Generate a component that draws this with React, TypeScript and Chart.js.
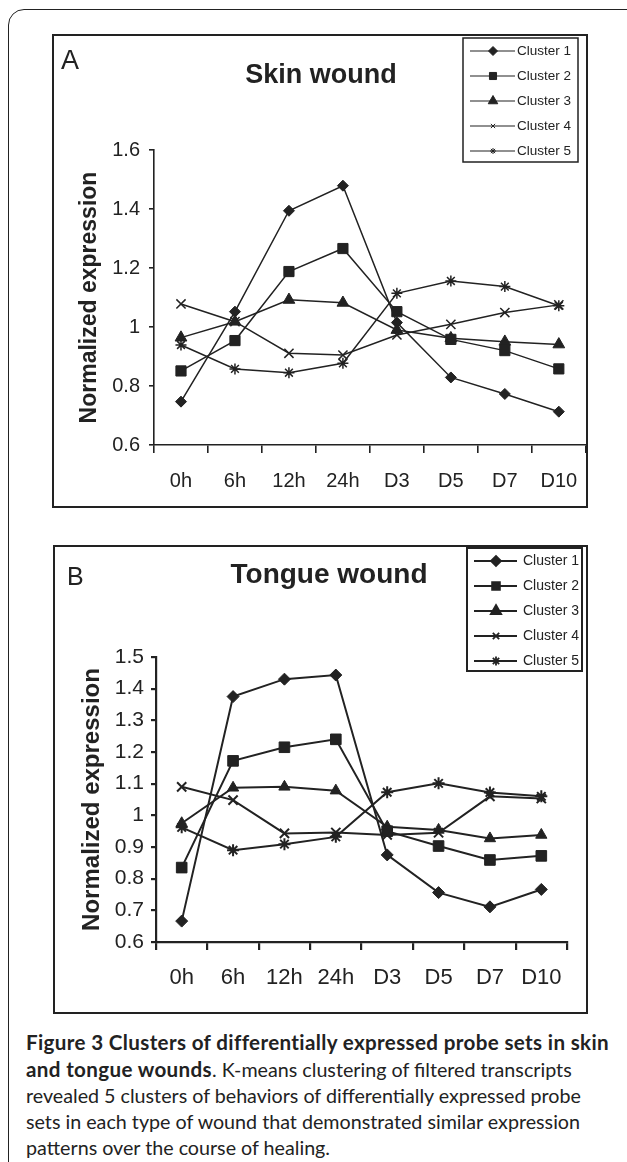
import React, { useEffect, useRef } from 'react';
import { Chart, registerables } from 'chart.js';
import { drawPoint } from 'chart.js/helpers';

Chart.register(...registerables);

// ---------- data ----------
const categories = ['0h', '6h', '12h', '24h', 'D3', 'D5', 'D7', 'D10'];
const clusterLabels = ['Cluster 1', 'Cluster 2', 'Cluster 3', 'Cluster 4', 'Cluster 5'];

const skinCluster1 = [0.747, 1.052, 1.394, 1.479, 1.015, 0.829, 0.773, 0.713];
const skinCluster2 = [0.851, 0.954, 1.188, 1.266, 1.052, 0.958, 0.92, 0.858];
const skinCluster3 = [0.964, 1.018, 1.092, 1.082, 0.99, 0.962, 0.95, 0.941];
const skinCluster4 = [1.078, 1.018, 0.911, 0.905, 0.973, 1.009, 1.049, 1.075];
const skinCluster5 = [0.939, 0.858, 0.845, 0.877, 1.114, 1.156, 1.137, 1.072];
const skinYTicks = [0.6, 0.8, 1, 1.2, 1.4, 1.6];

const tongueCluster1 = [0.666, 1.375, 1.43, 1.443, 0.875, 0.756, 0.711, 0.766];
const tongueCluster2 = [0.835, 1.172, 1.215, 1.24, 0.95, 0.903, 0.859, 0.872];
const tongueCluster3 = [0.975, 1.087, 1.09, 1.078, 0.964, 0.954, 0.927, 0.938];
const tongueCluster4 = [1.09, 1.048, 0.943, 0.946, 0.938, 0.945, 1.06, 1.053];
const tongueCluster5 = [0.962, 0.89, 0.909, 0.932, 1.073, 1.101, 1.072, 1.06];
const tongueYTicks = [0.6, 0.7, 0.8, 0.9, 1, 1.1, 1.2, 1.3, 1.4, 1.5];

const pointStyles = ['rectRot', 'rect', 'triangle', 'crossRot', 'star'];

const INK = '#222';
const FONT = '"Liberation Sans", Arial, sans-serif';

// ---------- decoration plugin (panel letter, title, boxed legend) ----------
const decorPlugin = {
  id: 'decor',
  afterDatasetsDraw(chart: any, _args: any, o: any) {
    const ctx = chart.ctx as CanvasRenderingContext2D;
    ctx.save();
    ctx.fillStyle = INK;
    ctx.textBaseline = 'alphabetic';
    ctx.textAlign = 'left';
    ctx.font = `${o.letterSize}px ${FONT}`;
    ctx.fillText(o.letter, o.letterX, o.letterY);
    ctx.textAlign = 'center';
    ctx.font = `bold ${o.titleSize}px ${FONT}`;
    ctx.fillText(o.title, o.titleX, o.titleY);

    const L = o.legend;
    ctx.fillStyle = '#fff';
    ctx.fillRect(L.x, L.y, L.w, L.h);
    ctx.strokeStyle = INK;
    ctx.lineWidth = L.border;
    ctx.strokeRect(L.x, L.y, L.w, L.h);
    chart.data.datasets.forEach((ds: any, i: number) => {
      const y = L.firstRowY + i * L.rowGap;
      ctx.strokeStyle = INK;
      ctx.fillStyle = INK;
      ctx.lineWidth = L.lineWidth;
      ctx.beginPath();
      ctx.moveTo(L.lineX1, y);
      ctx.lineTo(L.lineX2, y);
      ctx.stroke();
      ctx.lineWidth = L.markerBorder;
      drawPoint(ctx, { pointStyle: ds.pointStyle, radius: L.markerRadius[i], borderWidth: L.markerBorder, rotation: 0 } as any, L.markerX, y);
      ctx.fillStyle = INK;
      ctx.font = `${L.fontSize}px ${FONT}`;
      ctx.textAlign = 'left';
      ctx.textBaseline = 'middle';
      ctx.fillText(ds.label, L.textX, y + 0.5);
    });
    ctx.restore();
  },
};

function buildDatasets(series: number[][], lw: number, radii: number[]) {
  return series.map((data, i) => ({
    label: clusterLabels[i],
    data,
    borderColor: INK,
    backgroundColor: INK,
    borderWidth: lw,
    tension: 0,
    pointStyle: pointStyles[i],
    pointRadius: radii[i],
    pointHoverRadius: radii[i],
    pointBackgroundColor: INK,
    pointBorderColor: INK,
    pointBorderWidth: i >= 3 ? lw : 1,
  }));
}

type PanelCfg = {
  series: number[][];
  yTicks: number[];
  min: number;
  max: number;
  lineWidth: number;
  radii: number[];
  padding: { top: number; right: number; bottom: number; left: number };
  yAxisWidth: number;
  xAxisHeight: number;
  yTickFont: number;
  yTickPad: number;
  xTickFont: number;
  xTickPad: number;
  axisWidth: number;
  yTitleSize: number;
  yTitlePad: number;
  decor: any;
  box: { left: number; top: number; width: number; height: number };
};

function ChartPanel({ cfg }: { cfg: PanelCfg }) {
  const ref = useRef<HTMLCanvasElement | null>(null);
  useEffect(() => {
    if (!ref.current) return;
    const chart = new Chart(ref.current, {
      type: 'line',
      data: { labels: categories, datasets: buildDatasets(cfg.series, cfg.lineWidth, cfg.radii) as any },
      options: {
        responsive: true,
        maintainAspectRatio: false,
        animation: false,
        events: [],
        layout: { padding: cfg.padding },
        plugins: {
          legend: { display: false },
          tooltip: { enabled: false },
          title: { display: false },
          decor: cfg.decor,
        } as any,
        scales: {
          x: {
            type: 'category',
            offset: true,
            afterFit: (s: any) => {
              s.height = cfg.xAxisHeight;
            },
            grid: {
              offset: true,
              drawOnChartArea: false,
              drawTicks: true,
              tickLength: 8,
              color: INK,
              lineWidth: cfg.axisWidth,
            },
            border: { display: true, color: INK, width: cfg.axisWidth },
            ticks: {
              color: INK,
              font: { family: FONT, size: cfg.xTickFont },
              padding: cfg.xTickPad,
              maxRotation: 0,
              autoSkip: false,
            },
          },
          y: {
            type: 'linear',
            min: cfg.min,
            max: cfg.max,
            afterFit: (s: any) => {
              s.width = cfg.yAxisWidth;
            },
            afterBuildTicks: (s: any) => {
              s.ticks = cfg.yTicks.map((v) => ({ value: v }));
            },
            grid: {
              drawOnChartArea: false,
              drawTicks: true,
              tickLength: 5,
              color: INK,
              lineWidth: cfg.axisWidth,
            },
            border: { display: true, color: INK, width: cfg.axisWidth },
            ticks: {
              color: INK,
              font: { family: FONT, size: cfg.yTickFont },
              padding: cfg.yTickPad,
              callback: (v: any) => String(Number(Number(v).toFixed(2))),
            },
            title: {
              display: true,
              text: 'Normalized expression',
              color: INK,
              font: { family: FONT, size: cfg.yTitleSize, weight: 'bold' },
              padding: { top: cfg.yTitlePad, bottom: 0 },
            },
          },
        },
      } as any,
      plugins: [decorPlugin as any],
    });
    return () => chart.destroy();
  }, []);
  return (
    <div style={{ position: 'absolute', ...cfg.box }}>
      <canvas ref={ref} />
    </div>
  );
}

const skinCfg: PanelCfg = {
  series: [skinCluster1, skinCluster2, skinCluster3, skinCluster4, skinCluster5],
  yTicks: skinYTicks,
  min: 0.6,
  max: 1.6,
  lineWidth: 1.5,
  radii: [5.5, 7.2, 6.8, 6.5, 5.5],
  padding: { top: 114, right: 5, bottom: 11, left: 0 },
  yAxisWidth: 100,
  xAxisHeight: 50,
  yTickFont: 20,
  yTickPad: 9,
  xTickFont: 20,
  xTickPad: 16,
  axisWidth: 1.6,
  yTitleSize: 23,
  yTitlePad: 22,
  box: { left: 54, top: 36, width: 540, height: 470 },
  decor: {
    letter: 'A',
    letterSize: 27,
    letterX: 7,
    letterY: 33,
    title: 'Skin wound',
    titleSize: 27,
    titleX: 267,
    titleY: 47,
    legend: {
      x: 409, y: 2, w: 115, h: 124, border: 1.5,
      firstRowY: 15, rowGap: 25,
      lineX1: 416, lineX2: 461, markerX: 439, textX: 463,
      fontSize: 13.5, lineWidth: 1.2, markerBorder: 1,
      markerRadius: [4.5, 5, 5.5, 3, 3],
    },
  },
};

const tongueCfg: PanelCfg = {
  series: [tongueCluster1, tongueCluster2, tongueCluster3, tongueCluster4, tongueCluster5],
  yTicks: tongueYTicks,
  min: 0.6,
  max: 1.5,
  lineWidth: 2,
  radii: [6, 7.5, 6.5, 6.5, 6],
  padding: { top: 110, right: 20, bottom: 20, left: 0 },
  yAxisWidth: 101,
  xAxisHeight: 50,
  yTickFont: 21,
  yTickPad: 7,
  xTickFont: 22,
  xTickPad: 15,
  axisWidth: 2.2,
  yTitleSize: 24,
  yTitlePad: 23,
  box: { left: 55, top: 547, width: 532, height: 465 },
  decor: {
    letter: 'B',
    letterSize: 25,
    letterX: 12,
    letterY: 38,
    title: 'Tongue wound',
    titleSize: 28,
    titleX: 274,
    titleY: 36,
    legend: {
      x: 412, y: 1, w: 115, h: 123, border: 2,
      firstRowY: 14, rowGap: 25,
      lineX1: 419, lineX2: 462, markerX: 441, textX: 468,
      fontSize: 14, lineWidth: 2, markerBorder: 1.8,
      markerRadius: [5, 5.5, 6, 4.5, 4.5],
    },
  },
};

const captionLines: { bold: string; normal: string }[] = [
  { bold: 'Figure 3 Clusters of differentially expressed probe sets in skin', normal: '' },
  { bold: 'and tongue wounds', normal: '. K-means clustering of filtered transcripts' },
  { bold: '', normal: 'revealed 5 clusters of behaviors of differentially expressed probe' },
  { bold: '', normal: 'sets in each type of wound that demonstrated similar expression' },
  { bold: '', normal: 'patterns over the course of healing.' },
];

export default function App() {
  return (
    <div
      style={{
        position: 'absolute',
        left: 0,
        top: 0,
        width: 627,
        height: 1162,
        overflow: 'hidden',
        background: '#fff',
      }}
    >
      <div
        style={{
          position: 'absolute',
          left: 8,
          top: 9,
          width: 700,
          height: 1250,
          border: `1.5px solid ${INK}`,
          borderRadius: 16,
          boxSizing: 'border-box',
        }}
      />
      <div
        style={{
          position: 'absolute',
          left: 52,
          top: 34,
          width: 536,
          height: 474,
          border: `2px solid ${INK}`,
          boxSizing: 'border-box',
        }}
      />
      <div
        style={{
          position: 'absolute',
          left: 53,
          top: 545,
          width: 535,
          height: 469,
          border: `2.4px solid ${INK}`,
          boxSizing: 'border-box',
        }}
      />
      <ChartPanel cfg={skinCfg} />
      <ChartPanel cfg={tongueCfg} />
      <div
        style={{
          position: 'absolute',
          left: 26,
          top: 1029,
          fontFamily: 'Lato, "Open Sans", sans-serif',
          fontSize: 19.7,
          lineHeight: '26px',
          color: INK,
          whiteSpace: 'nowrap',
        }}
      >
        {captionLines.map((l, i) => (
          <div key={i}>
            {l.bold ? <b style={{ fontSize: 20.6, letterSpacing: '0.35px' }}>{l.bold}</b> : null}
            {l.normal}
          </div>
        ))}
      </div>
    </div>
  );
}
